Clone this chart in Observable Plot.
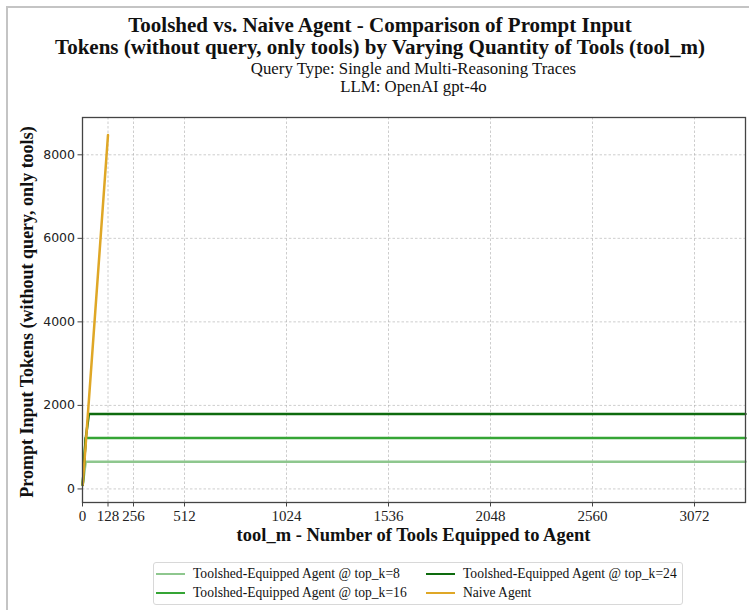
<!DOCTYPE html>
<html>
<head>
<meta charset="utf-8">
<script src="https://cdn.jsdelivr.net/npm/d3@7"></script>
<script src="https://cdn.jsdelivr.net/npm/@observablehq/plot@0.6"></script>
<style>
  html, body { margin: 0; padding: 0; background: #fff; }
  #page { position: relative; width: 749px; height: 610px; overflow: hidden; background: #fff; }
  #border { position: absolute; left: 6px; top: 6px; right: -10px; bottom: -10px; border-left: 2.5px solid #c4c4c4; border-top: 2.5px solid #c4c4c4; }
  .serif { font-family: "Liberation Serif", "DejaVu Serif", serif; color: #111; }
  #title { position: absolute; left: 0; width: 760px; top: 14px; text-align: center; font-weight: bold; font-size: 21px; line-height: 22px; }
  #subtitle { position: absolute; left: 82px; width: 663px; top: 60px; text-align: center; font-size: 16.8px; line-height: 17.5px; }
  #chart { position: absolute; left: 0; top: 100px; }
  #ylabel { position: absolute; left: 27px; top: 312px; transform: translate(-50%, -50%) rotate(-90deg); white-space: nowrap; font-weight: bold; font-size: 18px; }
  #xlabel { position: absolute; left: 82px; width: 663px; top: 525px; text-align: center; font-weight: bold; font-size: 18.5px; }
  #legend { position: absolute; left: 153px; top: 562px; width: 530px; height: 43px; border: 1px solid #d8d8d8; border-radius: 3px; box-sizing: border-box; font-size: 13.6px; }
  .item { position: absolute; height: 19px; line-height: 19px; white-space: nowrap; }
  .sw { position: absolute; left: 0; top: 8.5px; width: 29px; height: 2.6px; }
  .lt { position: absolute; left: 37px; top: 0; }
</style>
</head>
<body>
<div id="page">
  <div id="border"></div>
  <div id="title" class="serif">Toolshed vs. Naive Agent - Comparison of Prompt Input<br>Tokens (without query, only tools) by Varying Quantity of Tools (tool_m)</div>
  <div id="subtitle" class="serif">Query Type: Single and Multi-Reasoning Traces<br>LLM: OpenAI gpt-4o</div>
  <div id="chart"></div>
  <div id="ylabel" class="serif">Prompt Input Tokens (without query, only tools)</div>
  <div id="xlabel" class="serif">tool_m - Number of Tools Equipped to Agent</div>
  <div id="legend" class="serif"></div>
</div>
<script>
// ---- data ----
const toolM = [1, 16, 32, 64, 128, 256, 512, 1024, 2048, 3072, 3328];
const topK8 = [94, 650, 650, 650, 650, 650, 650, 650, 650, 650, 650];
const topK16 = [94, 1221, 1221, 1221, 1221, 1221, 1221, 1221, 1221, 1221, 1221];
const topK24 = [94, 1200, 1793, 1793, 1793, 1793, 1793, 1793, 1793, 1793, 1793];
const naiveToolM = [1, 16, 32, 64, 128];
const naiveTokens = [94, 1060, 2120, 4240, 8474];

const seriesNames = [
  "Toolshed-Equipped Agent @ top_k=8",
  "Toolshed-Equipped Agent @ top_k=16",
  "Toolshed-Equipped Agent @ top_k=24",
  "Naive Agent"
];
const seriesColors = ["#8ec78e", "#35a535", "#0e6b0e", "#dfa726"];

const xTicks = [0, 128, 256, 512, 1024, 1536, 2048, 2560, 3072];
const yTicks = [0, 2000, 4000, 6000, 8000];

// ---- build table ----
const rows = [];
[topK8, topK16, topK24].forEach((vals, s) => {
  toolM.forEach((m, i) => rows.push({series: seriesNames[s], tool_m: m, tokens: vals[i]}));
});
naiveToolM.forEach((m, i) => rows.push({series: seriesNames[3], tool_m: m, tokens: naiveTokens[i]}));

const chart = Plot.plot({
  width: 749,
  height: 460,
  marginTop: 17,
  marginBottom: 58,
  marginLeft: 82,
  marginRight: 4,
  style: {background: "transparent", overflow: "visible"},
  x: {domain: [0, 3328], label: null},
  y: {domain: [-325, 8893], label: null},
  color: {domain: seriesNames, range: seriesColors},
  marks: [
    Plot.gridX(xTicks, {stroke: "#b0b0b0", strokeOpacity: 0.8, strokeDasharray: "2.5,2", strokeWidth: 0.8}),
    Plot.gridY(yTicks, {stroke: "#b0b0b0", strokeOpacity: 0.8, strokeDasharray: "2.5,2", strokeWidth: 0.8}),
    Plot.line(rows, {x: "tool_m", y: "tokens", z: "series", stroke: "series", strokeWidth: 2.5, strokeLinejoin: "round"}),
    Plot.frame({stroke: "#444", strokeWidth: 1.3}),
    Plot.axisX({ticks: xTicks, tickSize: 4.5, tickPadding: 3, fontFamily: "Liberation Serif", fontSize: 15, label: null, tickFormat: d3.format("d"), stroke: "#444", color: "#222"}),
    Plot.axisY({ticks: yTicks, tickSize: 4.5, tickPadding: 3, fontFamily: "DejaVu Sans", fontSize: 12.5, label: null, tickFormat: d3.format("d"), stroke: "#444", color: "#222"})
  ]
});
document.getElementById("chart").appendChild(chart);

// ---- legend ----
const legend = document.getElementById("legend");
const pos = [[2, 1], [2, 20], [272, 1], [272, 20]];
[0, 1, 2, 3].forEach((s, i) => {
  const it = document.createElement("div");
  it.className = "item";
  it.style.left = pos[i][0] + "px";
  it.style.top = pos[i][1] + "px";
  const sw = document.createElement("div");
  sw.className = "sw";
  sw.style.background = seriesColors[s];
  const lt = document.createElement("span");
  lt.className = "lt";
  lt.textContent = seriesNames[s];
  it.appendChild(sw); it.appendChild(lt);
  legend.appendChild(it);
});
</script>
</body>
</html>
